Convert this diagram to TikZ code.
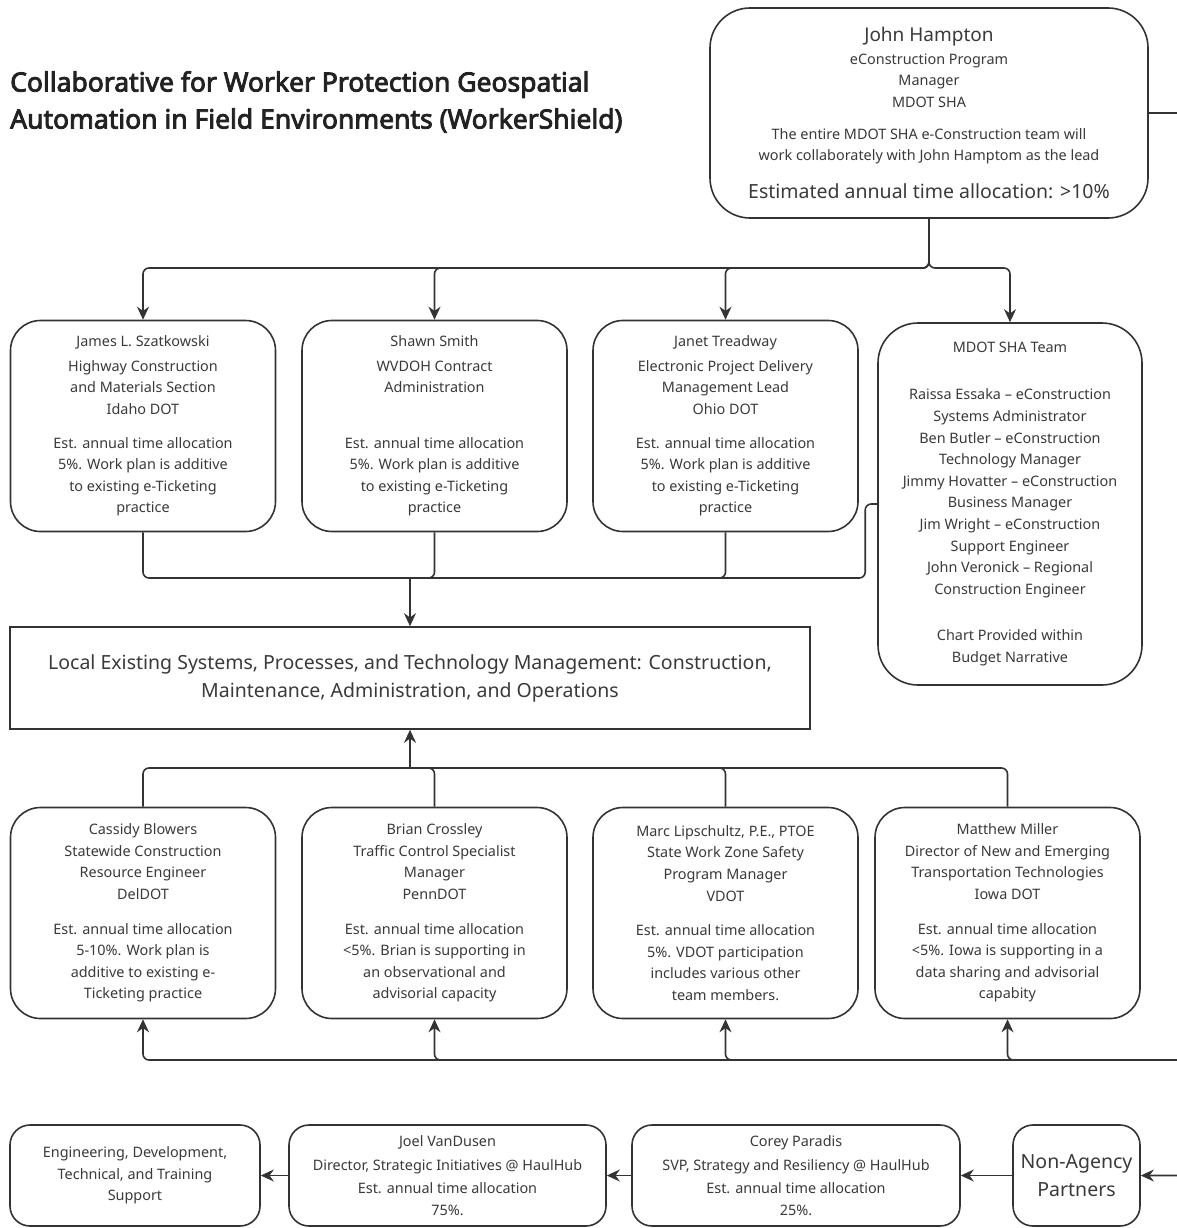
\documentclass[tikz,border=0pt]{standalone}
\usepackage{fontspec}
\setmainfont{Noto Sans}[AutoFakeBold=3.2]
\setsansfont{Noto Sans}[AutoFakeBold=3.2]
\usepackage{xcolor}
\usetikzlibrary{arrows.meta, positioning, calc}
\definecolor{ink}{HTML}{333333}
\definecolor{txt}{HTML}{3A3A3A}
\definecolor{head}{HTML}{222222}
\newcommand{\fsbody}{\fontsize{14.4}{21.6}\selectfont}
\newcommand{\fsbig}{\fontsize{19.5}{28}\selectfont}
\newcommand{\fsname}{\fontsize{19}{24}\selectfont}
\newcommand{\fstitle}{\fontsize{26.5}{37}\selectfont\bfseries}
\tikzset{
  >={Stealth[length=13pt, width=12pt]},
  %
  card/.style={
    draw=ink, line width=1.6pt, fill=white, rounded corners=30pt,
    inner sep=0pt, align=center, text=txt, font=\fsbody,
    minimum width=265pt, minimum height=211pt,
  },
  cardlead/.style={card, minimum width=438pt, minimum height=210pt, rounded corners=40pt},
  cardteam/.style={card, minimum width=264pt, minimum height=362pt, rounded corners=40pt},
  cardlow/.style={card, minimum height=101pt, rounded corners=20pt},
  plainbox/.style={
    draw=ink, line width=1.6pt, fill=white, inner sep=0pt, align=center,
    text=txt, font=\fsbig, minimum width=800pt, minimum height=102pt,
  },
  %
  link/.style={draw=ink, line width=1.6pt, rounded corners=6pt},
  flow/.style={link, ->},
  %
  heading/.style={font=\fstitle, text=head, align=left, inner sep=0pt},
}
\begin{document}
\begin{tikzpicture}[x=1pt, y=-1pt]

  \useasboundingbox (0,0) rectangle (1177,1228);
  \clip (0,0) rectangle (1177,1228);

  \node[heading, anchor=west] (title) at (10,102)
    {Collaborative for Worker Protection Geospatial\\
     Automation in Field Environments (WorkerShield)};

  % lead
  \node[cardlead] (hampton) at (929,113)
    {{\fsname John Hampton}\\[1pt]
     eConstruction Program\\ Manager\\ MDOT SHA\\[10pt]
     The entire MDOT SHA e-Construction team will\\
     work collaborately with John Hamptom as the lead\\[16pt]
     {\fsbig Estimated annual time allocation: >10\%}};

  % first row of partners
  \node[card] (james) at (143,426)
    {James L. Szatkowski\\[3pt] Highway Construction\\ and Materials Section\\
     Idaho DOT\\[12pt] Est. annual time allocation\\ 5\%. Work plan is additive\\
     to existing e-Ticketing\\ practice};
  \node[card] (shawn) at (434.5,426)
    {Shawn Smith\\[3pt] WVDOH Contract\\ Administration\\ ~\\[12pt]
     Est. annual time allocation\\ 5\%. Work plan is additive\\
     to existing e-Ticketing\\ practice};
  \node[card] (janet) at (725.5,426)
    {Janet Treadway\\[3pt] Electronic Project Delivery\\ Management Lead\\
     Ohio DOT\\[12pt] Est. annual time allocation\\ 5\%. Work plan is additive\\
     to existing e-Ticketing\\ practice};
  \node[cardteam] (team) at (1010,504)
    {MDOT SHA Team\\[26pt]
     Raissa Essaka – eConstruction\\ Systems Administrator\\
     Ben Butler – eConstruction\\ Technology Manager\\
     Jimmy Hovatter – eConstruction\\ Business Manager\\
     Jim Wright – eConstruction\\ Support Engineer\\
     John Veronick – Regional\\ Construction Engineer\\[25pt]
     Chart Provided within\\ Budget Narrative};

  \node[plainbox] (local) at (410,678)
    {Local Existing Systems, Processes, and Technology Management: Construction,\\
     Maintenance, Administration, and Operations};

  % second row of partners
  \node[card] (cassidy) at (143,913)
    {Cassidy Blowers\\ Statewide Construction\\ Resource Engineer\\ DelDOT\\[13pt]
     Est. annual time allocation\\ 5-10\%. Work plan is\\ additive to existing e-\\
     Ticketing practice};
  \node[card] (brian) at (434.5,913)
    {Brian Crossley\\ Traffic Control Specialist\\ Manager\\ PennDOT\\[13pt]
     Est. annual time allocation\\ <5\%. Brian is supporting in\\ an observational and\\
     advisorial capacity};
  \node[card] (marc) at (725.5,913)
    {Marc Lipschultz, P.E., PTOE\\ State Work Zone Safety\\ Program Manager\\ VDOT\\[13pt]
     Est. annual time allocation\\ 5\%. VDOT participation\\ includes various other\\
     team members.};
  \node[card] (matthew) at (1007.5,913)
    {Matthew Miller\\ Director of New and Emerging\\ Transportation Technologies\\
     Iowa DOT\\[13pt] Est. annual time allocation\\ <5\%. Iowa is supporting in a\\
     data sharing and advisorial\\ capabity};

  % non-agency chain
  \node[cardlow, minimum width=250pt] (support) at (135,1175.5)
    {Engineering, Development,\\ Technical, and Training\\ Support};
  \node[cardlow, minimum width=317pt] (joel) at (447.5,1175.5)
    {Joel VanDusen\\[2pt] Director, Strategic Initiatives @ HaulHub\\[2pt]
     Est. annual time allocation\\ 75\%.};
  \node[cardlow, minimum width=328pt] (corey) at (796,1175.5)
    {Corey Paradis\\[2pt] SVP, Strategy and Resiliency @ HaulHub\\[2pt]
     Est. annual time allocation\\ 25\%.};
  \node[cardlow, minimum width=127pt, font=\fsbig] (partners) at (1076.5,1175.5)
    {Non-Agency\\ Partners};

  % bus points
  \coordinate (topbus) at (929,268);
  \coordinate (midbus) at (410,578);
  \coordinate (lowbus) at (410,768);
  \coordinate (rail) at (1183,1060);

  % lead down to the first row
  \draw[flow] (hampton.south) -- (topbus) -| (james.north);
  \draw[flow] (hampton.south) -- (topbus) -| (shawn.north);
  \draw[flow] (hampton.south) -- (topbus) -| (janet.north);
  \draw[flow] (hampton.south) -- (topbus) -| (team.north);

  % first row into local systems
  \draw[link] (james.south) |- (midbus);
  \draw[link] (shawn.south) |- (midbus);
  \draw[link] (janet.south) |- (midbus);
  \draw[link] (team.west) -- ++(-12,0) |- (midbus);
  \draw[flow] (midbus) -- (local.north);

  % second row into local systems
  \draw[link] (cassidy.north) |- (lowbus);
  \draw[link] (brian.north) |- (lowbus);
  \draw[link] (marc.north) |- (lowbus);
  \draw[link] (matthew.north) |- (lowbus);
  \draw[flow] (lowbus) -- (local.south);

  % right-hand rail from the lead
  \draw[link] (hampton.east) -| (rail);
  \draw[flow] (rail) -| (cassidy.south);
  \draw[flow] (rail) -| (brian.south);
  \draw[flow] (rail) -| (marc.south);
  \draw[flow] (rail) -| (matthew.south);
  \draw[flow] (rail) |- (partners.east);

  \draw[flow] (partners.west) -- (corey.east);
  \draw[flow] (corey.west) -- (joel.east);
  \draw[flow] (joel.west) -- (support.east);

\end{tikzpicture}
\end{document}
